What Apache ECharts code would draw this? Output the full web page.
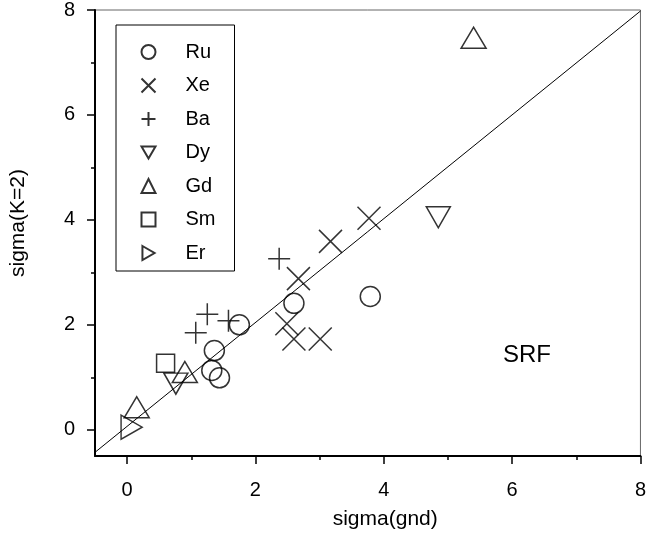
<!DOCTYPE html>
<html>
<head>
<meta charset="utf-8">
<script src="https://cdn.jsdelivr.net/npm/echarts@6/dist/echarts.min.js"></script>
<style>
  html, body { margin: 0; padding: 0; background: #fff; }
  #chart { width: 649px; height: 535px; }
</style>
</head>
<body>
<div id="chart"></div>
<script>
// values: sigma(gnd) vs sigma(K=2)
const ruX = [1.75, 1.36, 1.32, 1.44, 2.60, 3.79];
const ruY = [2.00, 1.51, 1.13, 0.99, 2.41, 2.54];
const xeX = [2.67, 2.49, 2.60, 3.01, 3.17, 3.77];
const xeY = [2.88, 2.02, 1.73, 1.73, 3.59, 4.03];
const baX = [1.07, 1.25, 1.58, 2.37];
const baY = [1.85, 2.20, 2.08, 3.26];
const dyX = [0.76, 4.85];
const dyY = [0.88, 4.05];
const gdX = [5.40, 0.90, 0.15];
const gdY = [7.47, 1.10, 0.43];
const smX = [0.60];
const smY = [1.27];
const erX = [0.07];
const erY = [0.05];

// diagonal reference line
const lineX = [-0.5, 8];
const lineY = [-0.43, 7.98];

const majorTicks = [0, 2, 4, 6, 8];
const minorTicks = [1, 3, 5, 7];

const FONT = 'Liberation Sans, Arial, sans-serif';
const INK = '#000';

function zip(xs, ys) {
    return xs.map((x, i) => [x, ys[i]]);
}

/**
 * 空心散点的公共样式
 */
function hollowSeries(name, xs, ys, symbol, size) {
    return {
        name: name,
        type: 'scatter',
        symbol: symbol,
        symbolSize: size,
        data: zip(xs, ys),
        itemStyle: {
            color: 'none',
            borderColor: INK,
            borderWidth: 1.5,
        },
        emphasis: { disabled: true },
        z: 3,
    };
}

function mainAxis(name, extra) {
    return Object.assign({
        type: 'value',
        min: -0.5,
        max: 8,
        name: name,
        nameLocation: 'middle',
        nameTextStyle: { fontFamily: FONT, fontSize: 21, color: INK },
        axisLine: { show: true, onZero: false, lineStyle: { color: INK, width: 2 } },
        axisTick: { show: true, customValues: majorTicks, length: 8, lineStyle: { color: INK, width: 1.5 } },
        axisLabel: { customValues: majorTicks, fontFamily: FONT, fontSize: 20, color: INK },
        splitLine: { show: false },
    }, extra);
}

// 次刻度用一条不可见的轴来画
function minorAxis(position) {
    return {
        type: 'value',
        min: -0.5,
        max: 8,
        position: position,
        axisLine: { show: false, onZero: false },
        axisTick: { show: true, customValues: minorTicks, length: 4, lineStyle: { color: INK, width: 1.5 } },
        axisLabel: { show: false },
        splitLine: { show: false },
    };
}

const chart = echarts.init(document.getElementById('chart'));

const option = {
    animation: false,
    backgroundColor: '#fff',
    grid: {
        left: 91,
        top: 9,
        right: 4,
        bottom: 79,
        show: true,
        borderColor: '#666',
        borderWidth: 1,
    },
    xAxis: [
        mainAxis('sigma(gnd)', {
            position: 'bottom',
            nameGap: 53,
            nameTextStyle: { fontFamily: FONT, fontSize: 21, color: INK, padding: [0, 0, 0, 35] },
            axisLabel: { customValues: majorTicks, fontFamily: FONT, fontSize: 20, color: INK, margin: 24 },
        }),
        minorAxis('bottom'),
    ],
    yAxis: [
        mainAxis('sigma(K=2)', {
            position: 'left',
            nameGap: 66,
            nameTextStyle: { fontFamily: FONT, fontSize: 21, color: INK, padding: [0, 0, 0, 20] },
            axisLabel: { customValues: majorTicks, fontFamily: FONT, fontSize: 20, color: INK, margin: 20 },
        }),
        minorAxis('left'),
    ],
    legend: {
        data: ['Ru', 'Xe', 'Ba', 'Dy', 'Gd', 'Sm', 'Er'],
        orient: 'vertical',
        left: 116,
        top: 25,
        padding: [17, 19, 8, 23],
        itemWidth: 14,
        itemHeight: 14,
        itemGap: 13.5,
        borderColor: INK,
        borderWidth: 1,
        backgroundColor: '#fff',
        selectedMode: false,
        textStyle: {
            fontFamily: FONT,
            fontSize: 20,
            color: INK,
            lineHeight: 20,
            padding: [0, 0, 0, 25],
        },
    },
    graphic: [
        {
            type: 'text',
            left: 503,
            top: 343,
            style: { text: 'SRF', fontFamily: FONT, fontSize: 24, fill: INK },
        },
    ],
    series: [
        {
            name: 'fit',
            type: 'line',
            data: zip(lineX, lineY),
            symbol: 'none',
            lineStyle: { color: INK, width: 1 },
            emphasis: { disabled: true },
            z: 2,
        },
        hollowSeries('Ru', ruX, ruY, 'circle', 20),
        hollowSeries('Xe', xeX, xeY, 'path://M0,0L10,10M10,0L0,10', 23),
        hollowSeries('Ba', baX, baY, 'path://M5,0L5,10M0,5L10,5', 22),
        hollowSeries('Dy', dyX, dyY, 'path://M0,0L10,0L5,8.66Z', [24, 21]),
        hollowSeries('Gd', gdX, gdY, 'triangle', [25, 21]),
        hollowSeries('Sm', smX, smY, 'rect', 18),
        hollowSeries('Er', erX, erY, 'path://M0,0L8.66,5L0,10Z', [21, 24]),
    ],
};

chart.setOption(option);
</script>
</body>
</html>
